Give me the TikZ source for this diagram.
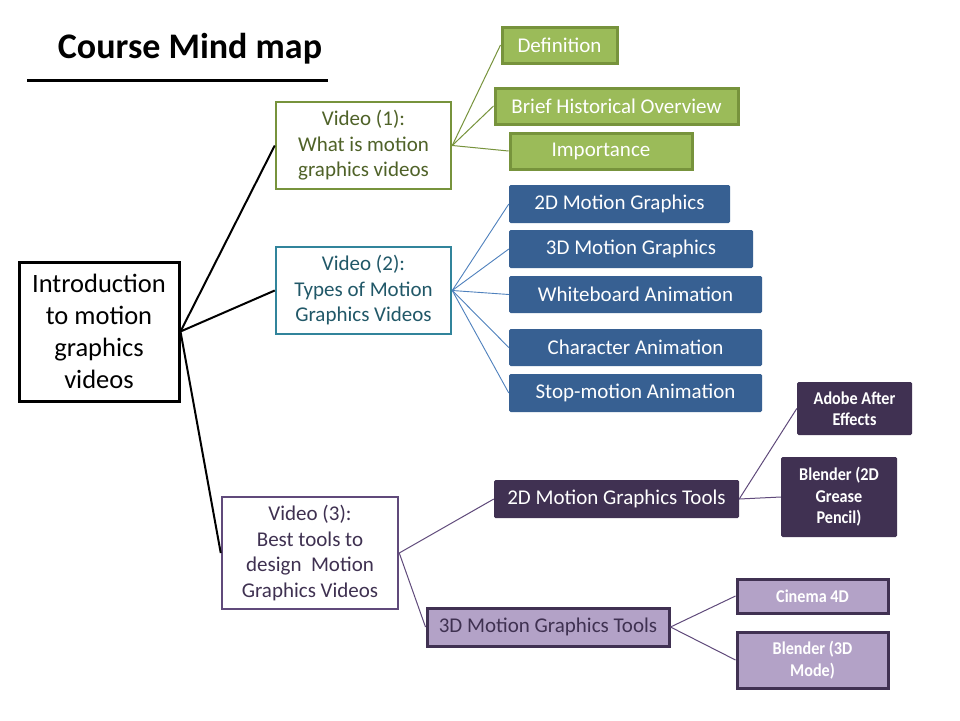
\documentclass[tikz,border=0pt]{standalone}
\usepackage{fontspec}
\setmainfont{Carlito}
\newfontfamily\narrowbold[FakeStretch=0.9]{Carlito}
\definecolor{grfill}{HTML}{9BBB59}
\definecolor{grline}{HTML}{77933C}
\definecolor{grtext}{HTML}{4F6228}
\definecolor{tealline}{HTML}{31849B}
\definecolor{tealtext}{HTML}{215868}
\definecolor{bluefill}{HTML}{376092}
\definecolor{blueline}{HTML}{4F81BD}
\definecolor{dpfill}{HTML}{403152}
\definecolor{lpfill}{HTML}{B3A2C7}
\definecolor{puline}{HTML}{604A7B}
\definecolor{putext}{HTML}{3F3151}
\tikzset{
  box/.style={rectangle, align=center, inner sep=2pt},
  rootbox/.style={box, draw=black, line width=3pt, fill=white, font=\fontsize{26.5}{32}\selectfont},
  vidbox/.style={box, line width=2.5pt, fill=white, font=\fontsize{21}{25.5}\selectfont},
  greenbox/.style={box, fill=grfill, draw=grline, line width=3pt, text=white, font=\fontsize{21}{24}\selectfont},
  bluebox/.style={box, fill=bluefill, rounded corners=1.5pt, text=white, font=\fontsize{21}{24}\selectfont},
  darkpbox/.style={box, fill=dpfill, rounded corners=1.5pt, text=white},
  lightpbox/.style={box, fill=lpfill, draw=dpfill, line width=3pt},
  smallbold/.style={font=\narrowbold\fontsize{18}{21.5}\selectfont\bfseries},
  rootlink/.style={draw=black, line width=2pt},
  greenlink/.style={draw=grline, line width=1pt},
  bluelink/.style={draw=blueline, line width=0.9pt},
  purplelink/.style={draw=puline, line width=1pt},
}
\begin{document}
\begin{tikzpicture}[x=1pt,y=-1pt]
\useasboundingbox (0,0) rectangle (960,720);
\fill[white] (0,0) rectangle (960,720);

% title
\node[font=\fontsize{36}{40}\selectfont\bfseries, inner sep=0pt] (title) at (190,49) {Course Mind map};
\coordinate (ulA) at (27,80);
\coordinate (ulB) at (328,80);
\draw[line width=3pt] (ulA) -- (ulB);

% root
\node[rootbox, minimum width=160pt, minimum height=139pt] (root) at (99,331.5)
  {Introduction\\to motion\\graphics\\videos};

% level 1
\node[vidbox, draw=grline, text=grtext, minimum width=175pt, minimum height=87pt] (v1) at (363.5,145.5)
  {Video (1):\\What is motion\\graphics videos};
\node[vidbox, draw=tealline, text=tealtext, minimum width=175pt, minimum height=87pt] (v2) at (363.5,290.5)
  {Video (2):\\Types of Motion\\Graphics Videos};
\node[vidbox, draw=puline, text=putext, minimum width=176pt, minimum height=112pt] (v3) at (310,553)
  {Video (3):\\Best tools to\\design\ \ Motion\\Graphics Videos};

% green
\node[greenbox, minimum width=115pt, minimum height=36pt] (def) at (559.5,45) {Definition};
\node[greenbox, minimum width=243pt, minimum height=36pt] (brief) at (616.5,106) {Brief Historical Overview};
\node[greenbox, minimum width=182pt, minimum height=36pt] (imp) at (601,151) {Importance};

% blue
\node[bluebox, minimum width=221pt, minimum height=38pt] (b1) at (619.5,204) {2D Motion Graphics};
\node[bluebox, minimum width=244pt, minimum height=38pt] (b2) at (631,249) {3D Motion Graphics};
\node[bluebox, minimum width=253pt, minimum height=37pt] (b3) at (635.5,294.5) {Whiteboard Animation};
\node[bluebox, minimum width=253pt, minimum height=37pt] (b4) at (635.5,347.5) {Character Animation};
\node[bluebox, minimum width=253pt, minimum height=38pt] (b5) at (635.5,393) {Stop-motion Animation};

% purple
\node[darkpbox, font=\fontsize{21}{24}\selectfont, minimum width=245pt, minimum height=38pt] (t2) at (616.5,499) {2D Motion Graphics Tools};
\node[darkpbox, smallbold, minimum width=115pt, minimum height=53pt] (adobe) at (854.5,408.5) {Adobe After\\Effects};
\node[darkpbox, smallbold, minimum width=116pt, minimum height=80pt] (bl2) at (839,497) {Blender (2D\\Grease\\Pencil)};
\node[lightpbox, text=putext, font=\fontsize{21}{24}\selectfont, minimum width=242pt, minimum height=38pt] (t3) at (548,627) {3D Motion Graphics Tools};
\node[lightpbox, text=white, smallbold, minimum width=151pt, minimum height=34pt] (cin) at (812.5,596) {Cinema 4D};
\node[lightpbox, text=white, smallbold, minimum width=151pt, minimum height=56pt] (bl3) at (812.5,660) {Blender (3D\\Mode)};

% connectors
\draw[rootlink] (root.east) -- (v1.west);
\draw[rootlink] (root.east) -- (v2.west);
\draw[rootlink] (root.east) -- (v3.west);

\draw[greenlink] (v1.east) -- (def.west);
\draw[greenlink] (v1.east) -- (brief.west);
\draw[greenlink] (v1.east) -- (imp.west);

\foreach \b in {b1,b2,b3,b4,b5} \draw[bluelink] (v2.east) -- (\b.west);

\draw[purplelink] (v3.east) -- (t2.west);
\draw[purplelink] (v3.east) -- (t3.west);
\draw[purplelink] (t2.east) -- (adobe.west);
\draw[purplelink] (t2.east) -- (bl2.west);
\draw[purplelink] (t3.east) -- (cin.west);
\draw[purplelink] (t3.east) -- (bl3.west);
\end{tikzpicture}
\end{document}
